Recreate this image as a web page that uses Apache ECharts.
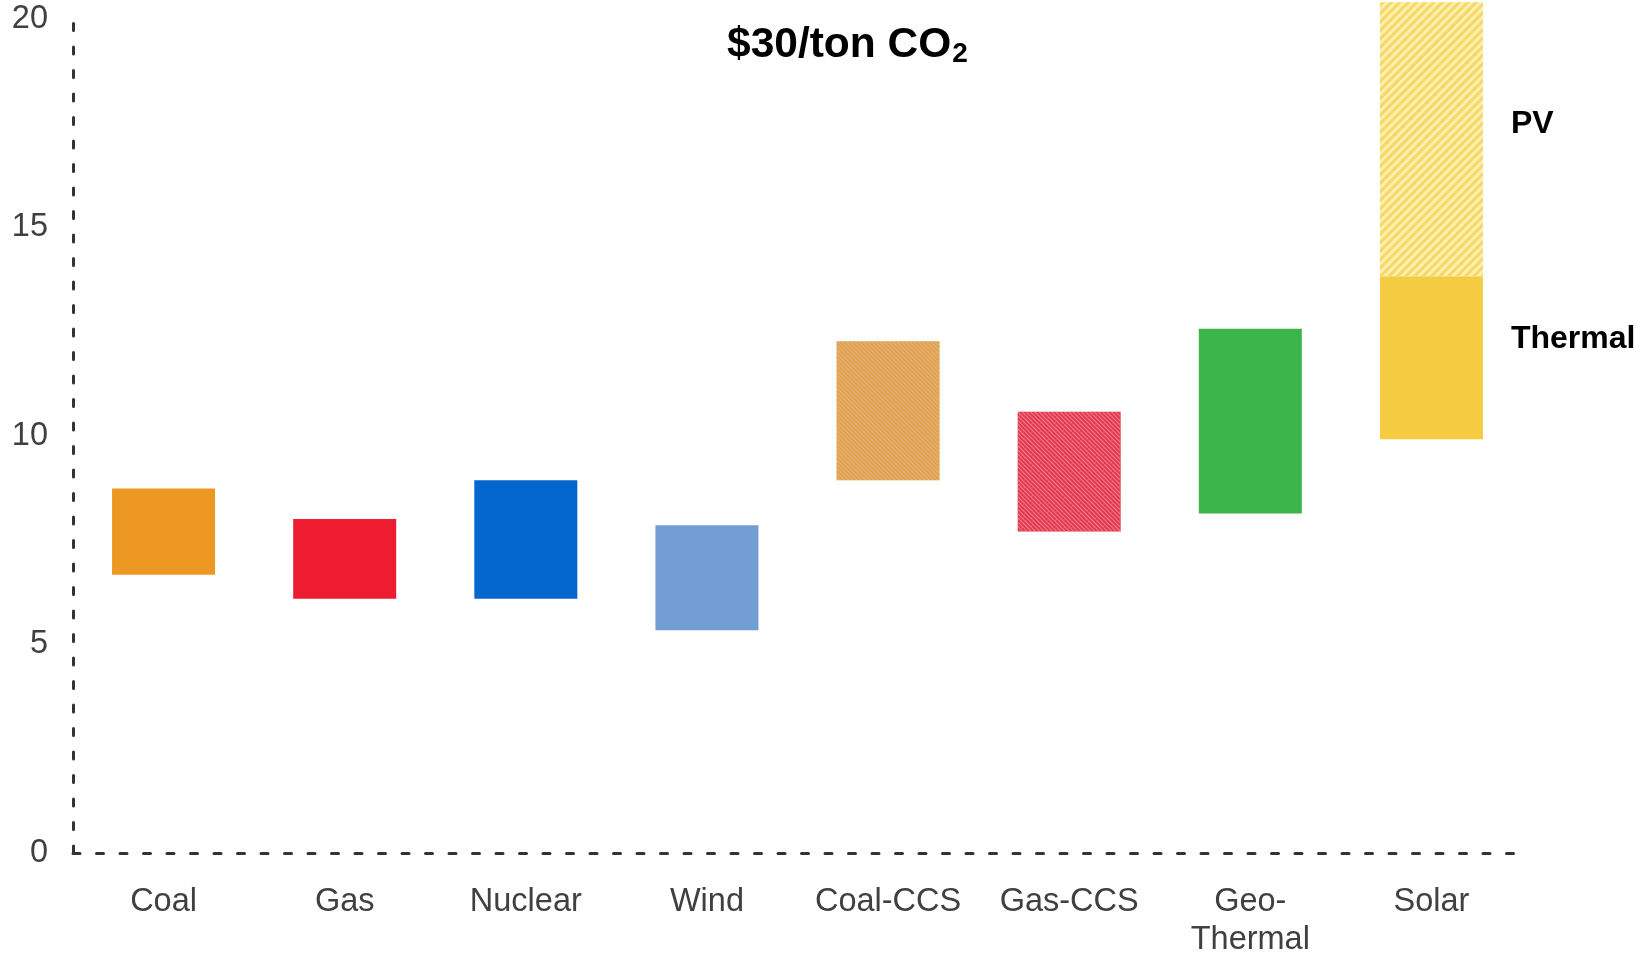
<!DOCTYPE html>
<html>
<head>
<meta charset="utf-8">
<script src="https://cdn.jsdelivr.net/npm/echarts@6/dist/echarts.min.js"></script>
<style>
html,body{margin:0;padding:0;background:#fff;}
#chart{width:1648px;height:953px;}
</style>
</head>
<body>
<div id="chart"></div>
<script>
// ---- data ----
const categories = ['Coal', 'Gas', 'Nuclear', 'Wind', 'Coal-CCS', 'Gas-CCS', 'Geo-\nThermal', 'Solar'];
const lowValues  = [6.67, 6.10, 6.10, 5.34, 8.94, 7.71, 8.14, 9.92];
const highValues = [8.74, 8.01, 8.94, 7.86, 12.27, 10.58, 12.57, 13.83];
const pvHigh = 20.4;          // Solar PV upper end (Solar thermal top is lower end)
const yTicks = [0, 5, 10, 15, 20];
const barColors = ['#EC9822', '#ED1C30', '#0366CE', '#729ED3', '#EBA043', '#E6384F', '#3AB54A', '#F5CB42'];
const titleText = '$30/ton CO';
const titleSub = '2';

// ---- build options ----
const hatch = {
  4: {color: 'rgba(205,185,160,0.85)', dashArrayX: [1, 0], dashArrayY: [1, 2], rotation: Math.PI / 4, symbol: 'rect', symbolSize: 1},
  5: {color: 'rgba(235,140,155,0.85)', dashArrayX: [1, 0], dashArrayY: [1, 2], rotation: Math.PI / 4, symbol: 'rect', symbolSize: 1}
};
const FONT = 'Liberation Sans, Arial, sans-serif';
const labelFont = {fontFamily: FONT, fontWeight: 'bold', fontSize: 32, color: '#000'};

const rangeData = categories.map((c, i) => {
  const item = {value: +(highValues[i] - lowValues[i]).toFixed(3), itemStyle: {color: barColors[i]}};
  if (hatch[i]) item.itemStyle.decal = hatch[i];
  if (i === 7) item.label = Object.assign({show: true, position: 'right', distance: 28, offset: [0, -19], formatter: 'Thermal'}, labelFont);
  return item;
});
const pvData = categories.map((c, i) => i === 7 ? {
  value: +(pvHigh - highValues[i]).toFixed(3),
  label: Object.assign({show: true, position: 'right', distance: 28, offset: [0, -15], formatter: 'PV'}, labelFont)
} : null);

const dashLine = {color: '#333', width: 3, type: [7, 16.5]};

const option = {
  backgroundColor: '#fff',
  animation: false,
  title: {
    text: '{a|' + titleText + '}{b|' + titleSub + '}',
    left: 722, top: 17,
    textStyle: {
      rich: {
        a: {fontFamily: FONT, fontWeight: 'bold', fontSize: 42.5, color: '#000'},
        b: {fontFamily: FONT, fontWeight: 'bold', fontSize: 28, color: '#000', padding: [18, 0, 0, 1]}
      }
    }
  },
  grid: {left: 73, right: 126, top: 19, bottom: 100, containLabel: false, outerBoundsMode: 'none'},
  xAxis: {
    type: 'category',
    data: categories,
    axisLine: {show: true, lineStyle: dashLine},
    axisTick: {show: false},
    axisLabel: {fontFamily: FONT, fontSize: 32.5, color: '#404040', margin: 30, lineHeight: 38, interval: 0},
    splitLine: {show: false}
  },
  yAxis: {
    type: 'value',
    min: yTicks[0], max: yTicks[yTicks.length - 1], interval: yTicks[1] - yTicks[0],
    axisLine: {show: true, lineStyle: dashLine},
    axisTick: {show: false},
    splitLine: {show: false},
    axisLabel: {fontFamily: FONT, fontSize: 32.5, color: '#404040', margin: 25}
  },
  series: [
    {name: 'base', type: 'bar', stack: 's', barWidth: 103, silent: true, clip: false,
     itemStyle: {color: 'transparent'}, data: lowValues},
    {name: 'range', type: 'bar', stack: 's', barWidth: 103, clip: false, data: rangeData},
    {name: 'PV', type: 'bar', stack: 's', barWidth: 103, clip: false,
     itemStyle: {color: '#FDF0AC', decal: {color: 'rgba(245,210,90,0.85)', dashArrayX: [1, 0], dashArrayY: [3, 3], rotation: -Math.PI / 4, symbol: 'rect', symbolSize: 1}},
     data: pvData}
  ]
};

const chart = echarts.init(document.getElementById('chart'), null, {renderer: 'canvas'});
chart.setOption(option);
</script>
</body>
</html>
